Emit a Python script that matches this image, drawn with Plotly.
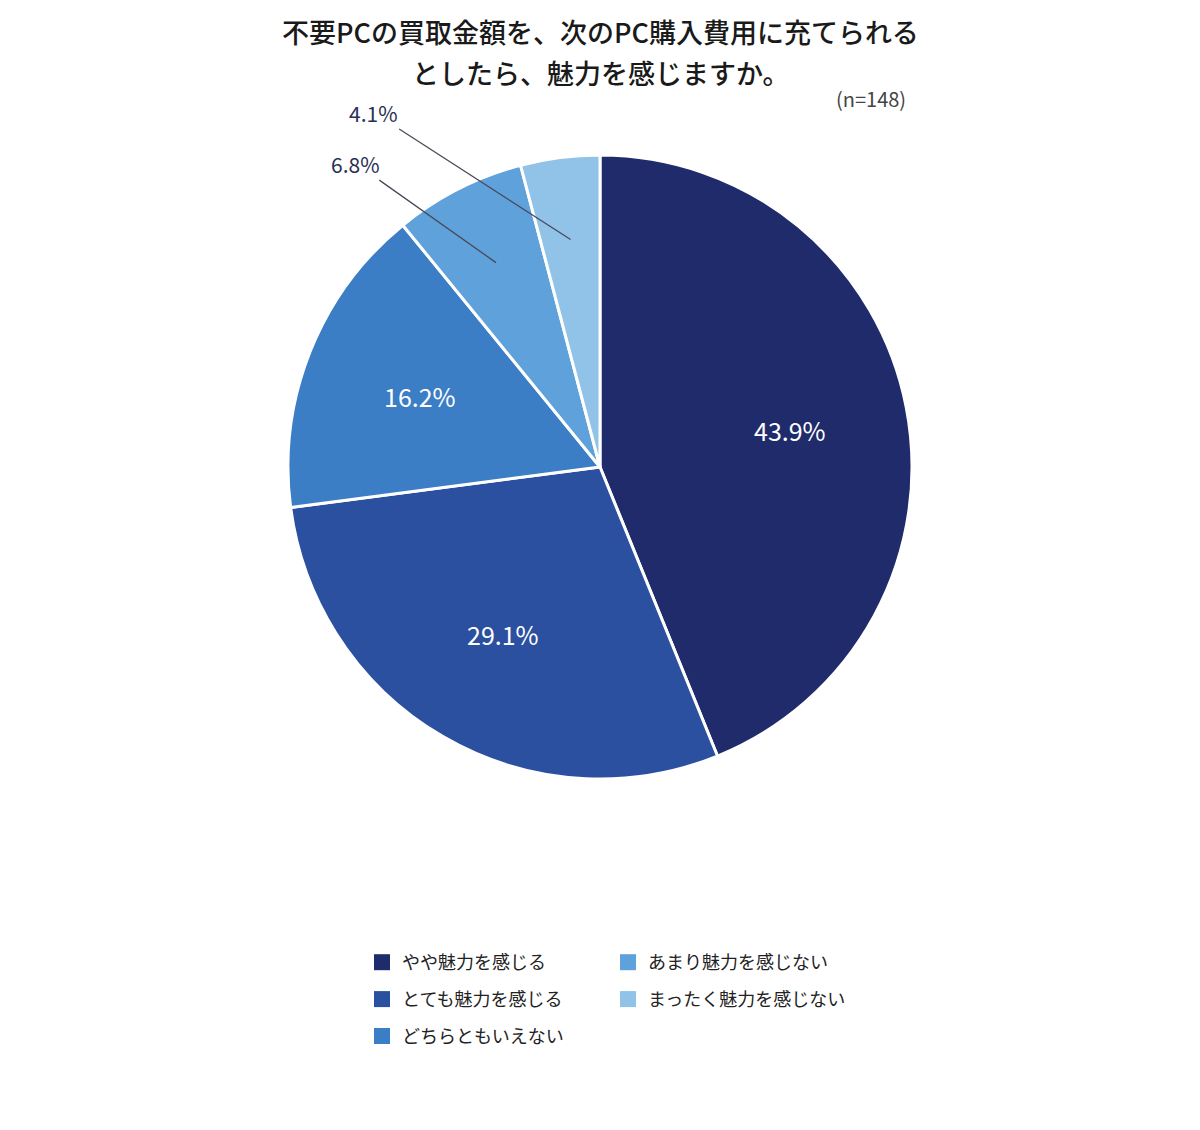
import math
import plotly.graph_objects as go

categories = ["やや魅力を感じる", "とても魅力を感じる", "どちらともいえない",
              "あまり魅力を感じない", "まったく魅力を感じない"]
values = [43.9, 29.1, 16.2, 6.8, 4.1]
colors = ["#1f2b6a", "#2c50a0", "#3b7ec6", "#5fa1da", "#91c2e8"]
title_lines = ["不要PCの買取金額を、次のPC購入費用に充てられる",
               "としたら、魅力を感じますか。"]

FONT = "Noto Sans CJK JP"
W, H = 1200, 1130
dom_x = [280 / W, 904 / W]
dom_y = [1 - 771 / H, 1 - 147 / H]

fig = go.Figure()
fig.add_trace(go.Pie(
    labels=categories, values=values, sort=False, direction="clockwise",
    rotation=0, marker=dict(colors=colors, line=dict(color="white", width=3)),
    textinfo="none", hoverinfo="label+value", showlegend=False,
    domain=dict(x=dom_x, y=dom_y),
))

# legend entries (two columns, filled top-down)
for i, (c, col) in enumerate(zip(categories, colors)):
    fig.add_trace(go.Scatter(
        x=[None], y=[None], mode="markers", name=c, legendgroup=c,
        marker=dict(symbol="square", size=16, color=col),
        legend="legend" if i < 3 else "legend2",
    ))

# label positions from the slice angles
cx = (dom_x[0] + dom_x[1]) / 2
cy = (dom_y[0] + dom_y[1]) / 2
R = (dom_x[1] - dom_x[0]) * W / 2
total = sum(values)
cum = 0
for v in values:
    mid = (cum + v / 2) / total * 2 * math.pi
    cum += v
    if v > 10:
        r = 0.62 * R
        fig.add_annotation(
            x=cx + r * math.sin(mid) / W, y=cy + r * math.cos(mid) / H,
            xref="paper", yref="paper", text=f"{v}%", showarrow=False,
            font=dict(family=FONT, size=25, color="white"))
    else:
        r = 0.735 * R
        off = (-140, -99) if v > 5 else (-197, -127)
        fig.add_annotation(
            x=cx + r * math.sin(mid) / W, y=cy + r * math.cos(mid) / H,
            xref="paper", yref="paper", text=f"{v}%", showarrow=True,
            arrowhead=0, arrowwidth=1.3, arrowcolor="#4a4a5a",
            ax=off[0], ay=off[1],
            font=dict(family=FONT, size=21, color="#2a2f55"))

for k, line in enumerate(title_lines):
    fig.add_annotation(
        x=592 / W, y=1 - (24 + 40 * k) / H, xref="paper", yref="paper",
        showarrow=False, text=line, xanchor="center", yanchor="middle",
        font=dict(family=FONT, size=27, color="#1a1a1a", weight=500))
fig.add_annotation(
    x=900 / W, y=1 - 90 / H, xref="paper", yref="paper", showarrow=False,
    xanchor="right", yanchor="middle", text="(n=148)",
    font=dict(family=FONT, size=20, color="#444444"))

leg = dict(font=dict(family=FONT, size=18, color="#222222"),
           orientation="v", tracegroupgap=10.5, itemclick=False,
           bgcolor="rgba(0,0,0,0)", yanchor="top", xanchor="left")
fig.update_layout(
    width=W, height=H, paper_bgcolor="white", plot_bgcolor="white",
    margin=dict(l=0, r=0, t=0, b=0),
    xaxis=dict(visible=False), yaxis=dict(visible=False),
    legend=dict(leg, x=354 / W, y=1 - 936 / H),
    legend2=dict(leg, x=600 / W, y=1 - 936 / H),
)

fig.write_html("out.html")
